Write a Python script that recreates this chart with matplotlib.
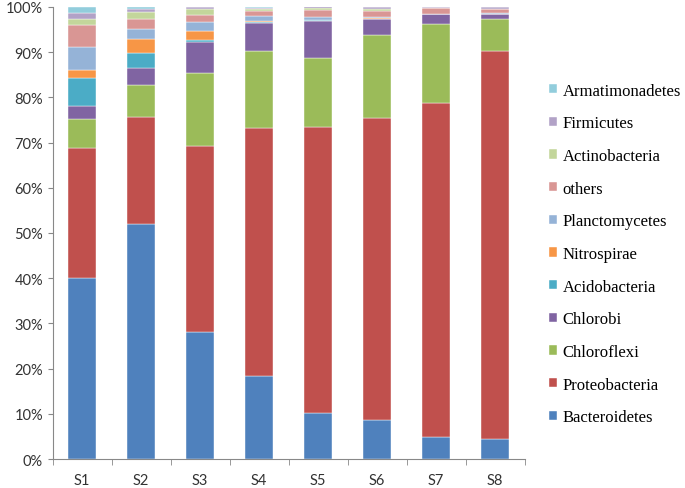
import numpy as np
import matplotlib
matplotlib.use("Agg")
import matplotlib.pyplot as plt
from matplotlib.ticker import PercentFormatter

samples = ["S1", "S2", "S3", "S4", "S5", "S6", "S7", "S8"]

# stacking order, bottom -> top
phyla = ["Bacteroidetes", "Proteobacteria", "Chloroflexi", "Chlorobi",
         "Acidobacteria", "Nitrospirae", "Planctomycetes", "others",
         "Actinobacteria", "Firmicutes", "Armatimonadetes"]

bacteroidetes   = [40.0, 52.0, 28.0, 18.3, 10.3, 8.7, 5.0, 4.5]
proteobacteria  = [28.8, 23.7, 41.3, 54.8, 63.2, 66.7, 73.8, 85.8]
chloroflexi     = [6.4, 7.0, 16.1, 17.2, 15.1, 18.4, 17.4, 7.0]
chlorobi        = [2.8, 3.7, 6.8, 6.2, 8.3, 3.5, 2.2, 1.2]
acidobacteria   = [6.3, 3.4, 0.4, 0.2, 0.1, 0.1, 0.0, 0.0]
nitrospirae     = [1.8, 3.0, 2.1, 0.2, 0.1, 0.1, 0.0, 0.0]
planctomycetes  = [5.0, 2.3, 1.9, 1.0, 0.6, 0.3, 0.1, 0.1]
others          = [4.8, 2.2, 1.6, 1.2, 1.6, 1.3, 1.2, 0.9]
actinobacteria  = [1.4, 1.5, 1.4, 0.4, 0.5, 0.5, 0.1, 0.1]
firmicutes      = [1.4, 0.8, 0.4, 0.3, 0.3, 0.4, 0.2, 0.4]
armatimonadetes = [1.3, 0.4, 0.2, 0.2, 0.1, 0.1, 0.2, 0.2]

colors = ["#4F81BD", "#C0504D", "#9BBB59", "#8064A2", "#4BACC6", "#F79646",
          "#95B3D7", "#D99694", "#C3D69B", "#B2A2C7", "#92CDDC"]

series = [bacteroidetes, proteobacteria, chloroflexi, chlorobi, acidobacteria,
          nitrospirae, planctomycetes, others, actinobacteria, firmicutes,
          armatimonadetes]

fig = plt.figure(figsize=(6.85, 4.89), dpi=100)
ax = fig.add_axes([0.077, 0.059, 0.689, 0.925])

x = np.arange(len(samples))
bottom = np.zeros(len(samples))
handles = []
for name, vals, c in zip(phyla, series, colors):
    vals = np.array(vals)
    b = ax.bar(x, vals, 0.47, bottom=bottom, color=c, label=name,
               edgecolor="white", linewidth=0.3)
    handles.append(b)
    bottom += vals

ax.set_xlim(-0.5, len(samples) - 0.5)
ax.set_ylim(0, 100)
ax.set_yticks(np.arange(0, 101, 10))
ax.yaxis.set_major_formatter(PercentFormatter(decimals=0))
ax.set_xticks(x)
ax.set_xticklabels(samples)
ax.set_xticks(np.arange(-0.5, len(samples), 1), minor=True)
ax.tick_params(axis="x", which="major", length=0, pad=10)
ax.tick_params(axis="x", which="minor", length=4, color="#888888", direction="out")
ax.tick_params(axis="y", length=3.5, color="#888888", direction="out")
for lab in ax.get_xticklabels() + ax.get_yticklabels():
    lab.set_fontfamily("Lato")
    lab.set_fontsize(10.5)
    lab.set_color("#333333")

for s in ["top", "right"]:
    ax.spines[s].set_visible(False)
ax.spines["left"].set_color("#888888")
ax.spines["bottom"].set_color("#888888")

fig.legend(handles[::-1], phyla[::-1], loc="upper left",
           bbox_to_anchor=(0.801, 0.829), frameon=False,
           prop={"family": "Liberation Serif", "size": 12},
           handlelength=0.5, handleheight=0.5, handletextpad=0.35,
           labelspacing=1.0, borderpad=0, borderaxespad=0)

fig.savefig("out.png", dpi=100)
